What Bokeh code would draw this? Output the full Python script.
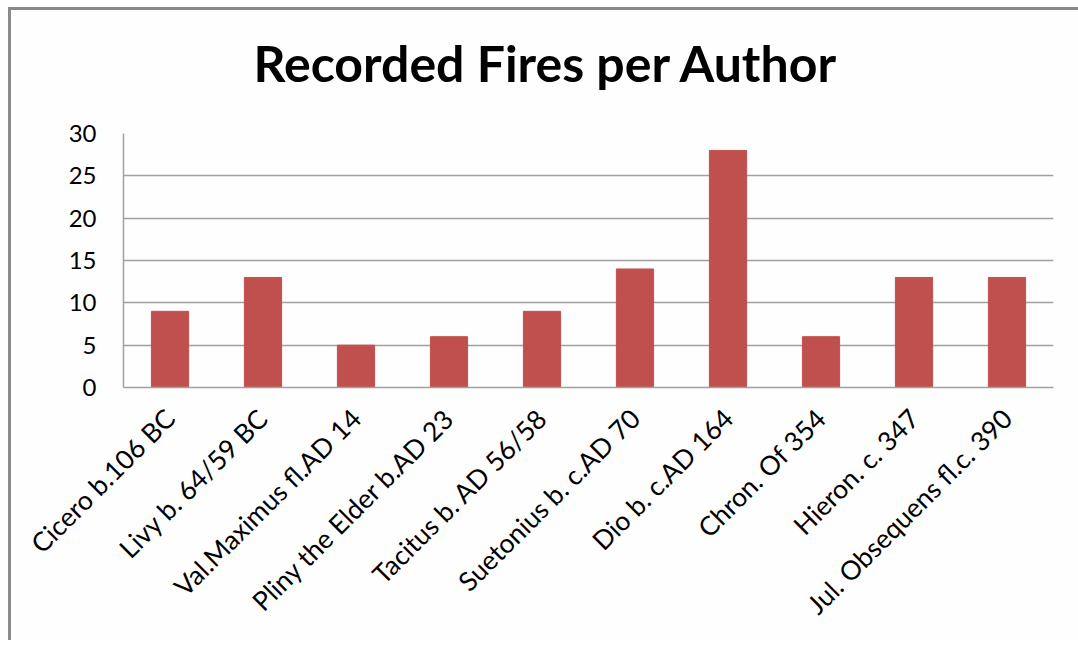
from bokeh.plotting import figure
from bokeh.models import ColumnDataSource, FixedTicker, Range1d, Title
from bokeh.embed import file_html
from bokeh.resources import INLINE
import math

# Recorded fires, one bar per ancient author
authors = [
    "Cicero b.106 BC",
    "Livy b. 64/59 BC",
    "Val.Maximus fl.AD 14",
    "Pliny the Elder b.AD 23",
    "Tacitus b. AD 56/58",
    "Suetonius b. c.AD 70",
    "Dio b. c.AD 164",
    "Chron. Of 354",
    "Hieron. c. 347",
    "Jul. Obsequens fl.c. 390",
]
fires = [9, 13, 5, 6, 9, 14, 28, 6, 13, 13]
y_ticks = [0, 5, 10, 15, 20, 25, 30]
chart_title = "Recorded Fires per Author"

source = ColumnDataSource(data=dict(author=authors, fires=fires))

FONT = "Lato"
EDGE = "#8a8a8a"

# chart-area border (left and top edges) painted behind a transparent canvas
chart_bg = (
    f"linear-gradient({EDGE},{EDGE}) 8px 7px / 3px 100% no-repeat, "
    f"linear-gradient({EDGE},{EDGE}) 8px 7px / 100% 3px no-repeat, "
    "#fefefe"
)

p = figure(
    x_range=authors,
    y_range=Range1d(0, 30),
    width=1078,
    height=640,
    output_backend="svg",
    toolbar_location=None,
    title=chart_title,
    min_border_left=123,
    min_border_right=25,
    min_border_top=133,
    min_border_bottom=253,
    styles={"background": chart_bg},
)

p.background_fill_color = "#fefefe"
p.border_fill_color = None
p.outline_line_color = None

p.vbar(x="author", top="fires", width=0.4, source=source,
       fill_color="#C0504D", line_color="#C0504D")

# blank strip between the plot area and the title
p.add_layout(Title(text=" ", text_font=FONT, text_font_size="24px", standoff=5), "above")

# title, placed over the middle of the whole chart
p.title.text_font = FONT
p.title.text_font_style = "bold"
p.title.text_font_size = "50px"
p.title.align = "left"
p.title.offset = 130
p.title.standoff = 10
p.title.text_color = "#000000"

# y axis
p.yaxis.ticker = FixedTicker(ticks=y_ticks)
p.yaxis.major_label_text_font = FONT
p.yaxis.major_label_text_font_size = "24px"
p.yaxis.major_label_text_color = "#000000"
p.yaxis.major_tick_line_color = None
p.yaxis.minor_tick_line_color = None
p.yaxis.axis_line_color = "#a0a0a0"
p.yaxis.axis_line_width = 1.5
p.yaxis.major_label_standoff = 21

# x axis
p.xaxis.major_label_orientation = math.pi / 4
p.xaxis.major_label_text_font = FONT
p.xaxis.major_label_text_font_size = "26.5px"
p.xaxis.major_label_text_color = "#000000"
p.xaxis.major_tick_line_color = None
p.xaxis.axis_line_color = "#a0a0a0"
p.xaxis.axis_line_width = 1.5
p.xaxis.major_label_standoff = 20

p.xgrid.grid_line_color = None
p.ygrid.grid_line_color = "#a0a0a0"
p.ygrid.grid_line_width = 1.5
p.x_range.range_padding = 0

open("out.html", "w").write(file_html(p, INLINE))
